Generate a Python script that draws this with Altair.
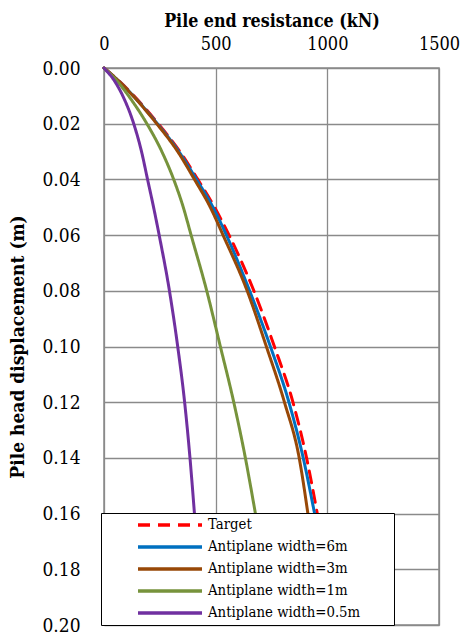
import altair as alt
import pandas as pd

disp = [0, 0.005, 0.01, 0.02, 0.03, 0.04, 0.05, 0.06, 0.08, 0.10, 0.12, 0.14, 0.16]
target = [0, 72, 134, 243, 340, 420, 495, 560, 671, 763, 846, 907, 955]
w6 = [0, 70, 131, 239, 335, 414, 488, 548, 652, 745, 828, 892, 943]
w3 = [0, 70, 130, 236, 330, 405, 476, 533, 641, 727, 808, 874, 913]
w1 = [0, 62, 110, 192, 259, 312, 355, 390, 460, 521, 581, 633, 678]
w05 = [0, 50, 84, 133, 168, 195, 222, 247, 293, 330, 361, 385, 405]

series_names = ["Target", "Antiplane width=6m", "Antiplane width=3m",
                "Antiplane width=1m", "Antiplane width=0.5m"]
series_values = [target, w6, w3, w1, w05]
colors = ["#FF0000", "#0070C0", "#984807", "#77933C", "#7030A0"]
dashes = [[12, 8], [1, 0], [1, 0], [1, 0], [1, 0]]

x_ticks = [0, 500, 1000, 1500]
y_ticks = [0, 0.02, 0.04, 0.06, 0.08, 0.10, 0.12, 0.14, 0.16, 0.18, 0.20]

rows = []
for name, vals in zip(series_names, series_values):
    for d, v in zip(disp, vals):
        rows.append({"series": name, "disp": d, "load": v})
df = pd.DataFrame(rows)

FONT = "DejaVu Serif Condensed"
GRID = "#8a8a8a"

legend = alt.Legend(
    title=None, orient="none", legendX=-3, legendY=445,
    fillColor="white", strokeColor="black", padding=4,
    labelFont=FONT, labelFontSize=14.8, labelColor="black", labelLimit=500,
    symbolType="stroke", symbolSize=4096, symbolStrokeWidth=3.5,
    symbolOffset=31, labelOffset=4, clipHeight=16, rowPadding=6,
    labelExpr="datum.label + '\u2800\u2800\u2800'",
)

base = alt.Chart(df).mark_line(strokeWidth=3, strokeCap="round",
                               interpolate="monotone").encode(
    x=alt.X("load:Q", scale=alt.Scale(domain=[0, 1500], nice=False),
            axis=alt.Axis(orient="top", values=x_ticks, title="Pile end resistance (kN)",
                          labelFontSize=18, labelPadding=15, titlePadding=5,
                          titleFontSize=17.7, labelFlush=False, format="d")),
    y=alt.Y("disp:Q", scale=alt.Scale(domain=[0, 0.2], reverse=True, nice=False),
            axis=alt.Axis(values=y_ticks, format=".2f", title="Pile head displacement (m)",
                          labelFontSize=19, labelPadding=24, titlePadding=14,
                          titleFontSize=19)),
    color=alt.Color("series:N", sort=series_names,
                    scale=alt.Scale(domain=series_names, range=colors), legend=legend),
    strokeDash=alt.StrokeDash("series:N", sort=series_names,
                              scale=alt.Scale(domain=series_names, range=dashes), legend=legend),
    order=alt.Order("disp:Q"),
)

chart = alt.layer(
    base.transform_filter(alt.datum.series == "Target"),
    base.transform_filter(alt.datum.series != "Target"),
).properties(
    width=335, height=557,
    autosize=alt.AutoSizeParams(type="none"),
    padding={"left": 104, "top": 68, "right": 25, "bottom": 12},
).configure_axis(
    labelFont=FONT, titleFont=FONT, labelColor="black", titleColor="black",
    titleFontWeight="bold",
    ticks=False, domain=False, grid=True, gridColor=GRID, gridWidth=1.3, gridOpacity=1,
).configure_view(
    stroke=GRID, strokeWidth=1.5,
)

chart.save("out.html", embed_options={"renderer": "svg", "actions": False})
